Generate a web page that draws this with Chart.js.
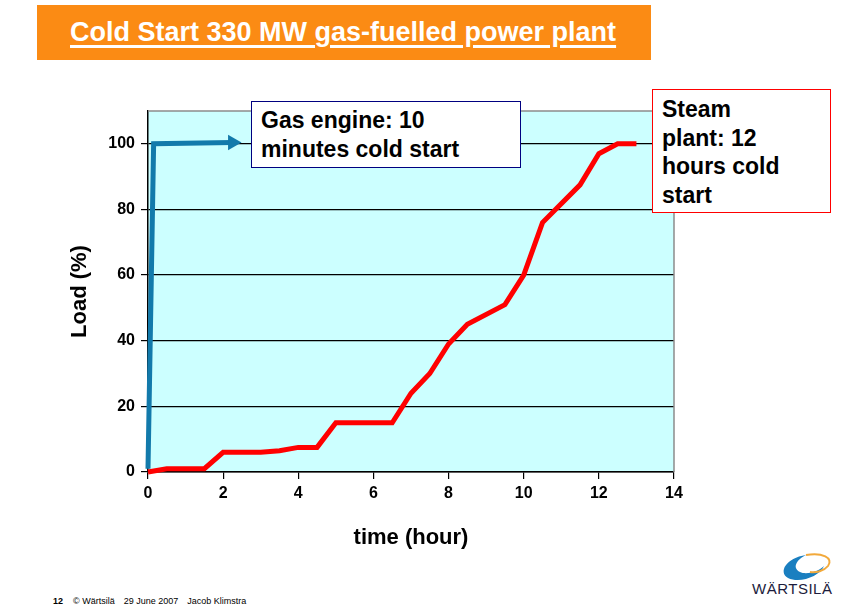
<!DOCTYPE html>
<html>
<head>
<meta charset="utf-8">
<script src="https://cdn.jsdelivr.net/npm/chart.js@4"></script>
<style>
  body { margin: 0; width: 864px; height: 612px; background: #fff; position: relative; overflow: hidden; font-family: "Liberation Sans", Arial, sans-serif; }
  #banner { position: absolute; left: 37px; top: 5px; width: 614px; height: 55px; background: #fb8b14; }
  #banner span { position: absolute; left: 33px; top: 12px; color: #fff; font-weight: bold; font-size: 27px; text-decoration: underline; text-decoration-thickness: 3px; text-underline-offset: 4px; white-space: nowrap; }
  #chartWrap { position: absolute; left: 60px; top: 100px; width: 640px; height: 460px; }
  .note { position: absolute; background: #fff; font-weight: bold; font-size: 23px; line-height: 28.5px; color: #000; box-sizing: border-box; white-space: nowrap; }
  #gasNote { left: 251px; top: 101px; width: 270px; height: 67px; border: 1.5px solid #000080; padding: 4px 0 0 9px; }
  #steamNote { left: 652px; top: 89px; width: 179px; height: 124px; border: 1.5px solid #ff0000; padding: 5px 0 0 9px; }
  #footer { position: absolute; left: 53px; top: 596px; font-size: 9px; color: #000; white-space: nowrap; }
  #footer b { margin-right: 10px; }
  #footer span { margin-right: 9px; }
  #logo { position: absolute; left: 748px; top: 550px; width: 90px; height: 52px; }
  #logo div { position: absolute; left: 4px; top: 30px; font-size: 15px; color: #1c1c3c; letter-spacing: 0.5px; }
</style>
</head>
<body>
<div id="banner"><span>Cold Start 330 MW gas-fuelled power plant</span></div>
<div id="chartWrap"><canvas id="chart" width="640" height="460"></canvas></div>
<div class="note" id="gasNote">Gas engine: 10<br>minutes cold start</div>
<div class="note" id="steamNote">Steam<br>plant: 12<br>hours cold<br>start</div>
<div id="footer"><b>12</b><span>© Wärtsilä</span><span>29 June 2007</span><span>Jacob Klimstra</span></div>
<div id="logo">
  <svg width="90" height="34" viewBox="0 0 90 34">
    <path d="M40 28 C30 22 38 8 58 5 C48 10 44 18 52 22 C58 25 70 22 76 16 C72 26 52 34 40 28 Z" fill="#1a7fc0"/>
    <path d="M58 5 C74 2 86 8 80 16 C76 21 68 23 62 22" fill="none" stroke="#f2a93b" stroke-width="2"/>
  </svg>
  <div>WÄRTSILÄ</div>
</div>

<script>
// steam plant start-up curve (hours, load %)
const steamHours = [0, 0.5, 1.5, 2, 3, 3.5, 4, 4.5, 5, 6.5, 7, 7.5, 8, 8.5, 9.5, 10, 10.5, 11.5, 12, 12.5, 13];
const steamLoad  = [0, 1, 1, 6, 6, 6.5, 7.5, 7.5, 15, 15, 24, 30, 39, 45, 51, 60, 76, 87.5, 97, 100, 100];

// gas engine start-up (10 minutes), last point carries the arrow head
const gasHours = [0, 0.15, 2.25];
const gasLoad  = [1, 100, 100.4];

const xTicks = [0, 2, 4, 6, 8, 10, 12, 14];
const yTicks = [0, 20, 40, 60, 80, 100];

const plotArea = {
    id: 'plotArea',
    beforeDraw(chart) {
        const a = chart.chartArea, ctx = chart.ctx;
        ctx.save();
        ctx.fillStyle = '#ccffff';
        ctx.fillRect(a.left, a.top, a.right - a.left, a.bottom - a.top);
        ctx.restore();
    },
    beforeDatasetsDraw(chart) {
        const a = chart.chartArea, ctx = chart.ctx;
        ctx.save();
        ctx.strokeStyle = '#8c8c8c';
        ctx.lineWidth = 1.5;
        ctx.beginPath();
        ctx.moveTo(a.left, a.top);
        ctx.lineTo(a.right, a.top);
        ctx.lineTo(a.right, a.bottom);
        ctx.stroke();
        ctx.restore();
    }
};

const tickFont = { family: 'Liberation Sans, Arial', size: 16, weight: 'bold' };
const titleFont = { family: 'Liberation Sans, Arial', size: 22, weight: 'bold' };

new Chart(document.getElementById('chart'), {
    type: 'scatter',
    data: {
        datasets: [
            {
                label: 'Gas engine',
                data: gasHours.map((h, i) => ({ x: h, y: gasLoad[i] })),
                showLine: true,
                clip: 8,
                borderColor: '#127aab',
                backgroundColor: '#127aab',
                borderWidth: 5,
                pointStyle: 'triangle',
                rotation: 90,
                pointRadius: gasHours.map((h, i) => i === gasHours.length - 1 ? 9 : 0),
                pointBorderWidth: 0,
                order: 0
            },
            {
                label: 'Steam plant',
                data: steamHours.map((h, i) => ({ x: h, y: steamLoad[i] })),
                showLine: true,
                clip: 8,
                borderColor: '#ff0000',
                borderWidth: 5,
                pointRadius: 0,
                order: 1
            }
        ]
    },
    options: {
        responsive: false,
        animation: false,
        layout: { padding: { top: 11, right: 26, left: 0, bottom: 0 } },
        plugins: {
            legend: { display: false },
            tooltip: { enabled: false }
        },
        scales: {
            x: {
                type: 'linear',
                min: 0,
                max: 14,
                afterBuildTicks: s => { s.ticks = xTicks.map(v => ({ value: v })); },
                afterFit: s => { s.height = 88; },
                ticks: { color: '#000', font: tickFont, padding: 5, maxRotation: 0 },
                grid: { drawOnChartArea: false, color: '#000', tickLength: 7, lineWidth: 1.2 },
                border: { color: '#000', width: 1.5 },
                title: { display: true, text: 'time (hour)', color: '#000', font: titleFont, padding: { top: 4, bottom: 9 } }
            },
            y: {
                min: 0,
                max: 110,
                afterBuildTicks: s => { s.ticks = yTicks.map(v => ({ value: v })); },
                afterFit: s => { s.width = 88; s.paddingTop = 0; },
                ticks: { color: '#000', font: tickFont, padding: 6 },
                grid: { color: '#000', tickLength: 7, lineWidth: 1.2 },
                border: { color: '#000', width: 1.5 },
                title: { display: true, text: 'Load (%)', color: '#000', font: titleFont, padding: { top: 7, bottom: 0 } }
            }
        }
    },
    plugins: [plotArea]
});
</script>
</body>
</html>
